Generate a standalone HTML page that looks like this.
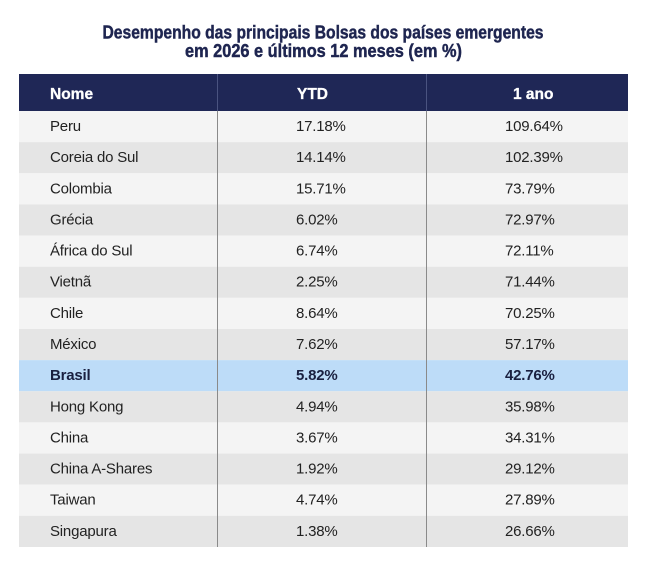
<!DOCTYPE html>
<html><head><meta charset="utf-8"><style>
html,body{margin:0;padding:0;background:#fff;}
svg{display:block;}
text{font-family:"Liberation Sans",Arial,sans-serif;}
</style></head><body>
<svg width="646" height="569" viewBox="0 0 646 569" xmlns="http://www.w3.org/2000/svg">
<rect width="646" height="569" fill="#ffffff"/>
<text x="323" y="38.5" text-anchor="middle" font-size="18" font-weight="bold" fill="#1e2550" stroke="#1e2550" stroke-width="0.45" textLength="441" lengthAdjust="spacingAndGlyphs">Desempenho das principais Bolsas dos países emergentes</text>
<text x="323.5" y="57" text-anchor="middle" font-size="18" font-weight="bold" fill="#1e2550" stroke="#1e2550" stroke-width="0.45" textLength="277" lengthAdjust="spacingAndGlyphs">em 2026 e últimos 12 meses (em %)</text>

<!-- header -->
<rect x="19" y="74" width="609" height="37" fill="#1f2756"/>
<!-- rows -->
<rect x="19" y="111" width="609" height="31.14" fill="#f4f4f4"/>
<rect x="19" y="142.14" width="609" height="31.14" fill="#e5e5e5"/>
<rect x="19" y="173.28" width="609" height="31.14" fill="#f4f4f4"/>
<rect x="19" y="204.42" width="609" height="31.14" fill="#e5e5e5"/>
<rect x="19" y="235.56" width="609" height="31.14" fill="#f4f4f4"/>
<rect x="19" y="266.7" width="609" height="31.14" fill="#e5e5e5"/>
<rect x="19" y="297.84" width="609" height="31.14" fill="#f4f4f4"/>
<rect x="19" y="328.98" width="609" height="31.14" fill="#e5e5e5"/>
<rect x="19" y="360.12" width="609" height="31.14" fill="#bddcf8"/>
<rect x="19" y="391.26" width="609" height="31.14" fill="#e5e5e5"/>
<rect x="19" y="422.4" width="609" height="31.14" fill="#f4f4f4"/>
<rect x="19" y="453.54" width="609" height="31.14" fill="#e5e5e5"/>
<rect x="19" y="484.68" width="609" height="31.14" fill="#f4f4f4"/>
<rect x="19" y="515.82" width="609" height="31.18" fill="#e5e5e5"/>

<!-- dividers -->
<line x1="217.5" y1="74" x2="217.5" y2="111" stroke="#4a5380" stroke-width="1"/>
<line x1="426.5" y1="74" x2="426.5" y2="111" stroke="#4a5380" stroke-width="1"/>
<line x1="217.5" y1="111" x2="217.5" y2="547" stroke="#8a8a8a" stroke-width="1"/>
<line x1="426.5" y1="111" x2="426.5" y2="547" stroke="#8a8a8a" stroke-width="1"/>

<!-- header text -->
<g font-size="15.5" font-weight="bold" fill="#ffffff" stroke="#ffffff" stroke-width="0.3">
<text x="50" y="99">Nome</text>
<text x="297" y="99">YTD</text>
<text x="513" y="99">1 ano</text>
</g>

<g font-size="15" fill="#222222" letter-spacing="-0.2">
<text x="50" y="131">Peru</text><text x="296" y="131">17.18%</text><text x="505" y="131">109.64%</text>
<text x="50" y="162.1">Coreia do Sul</text><text x="296" y="162.1">14.14%</text><text x="505" y="162.1">102.39%</text>
<text x="50" y="193.3">Colombia</text><text x="296" y="193.3">15.71%</text><text x="505" y="193.3">73.79%</text>
<text x="50" y="224.4">Grécia</text><text x="296" y="224.4">6.02%</text><text x="505" y="224.4">72.97%</text>
<text x="50" y="255.6">África do Sul</text><text x="296" y="255.6">6.74%</text><text x="505" y="255.6">72.11%</text>
<text x="50" y="286.7">Vietnã</text><text x="296" y="286.7">2.25%</text><text x="505" y="286.7">71.44%</text>
<text x="50" y="317.8">Chile</text><text x="296" y="317.8">8.64%</text><text x="505" y="317.8">70.25%</text>
<text x="50" y="349">México</text><text x="296" y="349">7.62%</text><text x="505" y="349">57.17%</text>
<text x="50" y="380.1" font-weight="bold" fill="#1a2040">Brasil</text><text x="296" y="380.1" font-weight="bold" fill="#1a2040">5.82%</text><text x="505" y="380.1" font-weight="bold" fill="#1a2040">42.76%</text>
<text x="50" y="411.3">Hong Kong</text><text x="296" y="411.3">4.94%</text><text x="505" y="411.3">35.98%</text>
<text x="50" y="442.4">China</text><text x="296" y="442.4">3.67%</text><text x="505" y="442.4">34.31%</text>
<text x="50" y="473.5">China A-Shares</text><text x="296" y="473.5">1.92%</text><text x="505" y="473.5">29.12%</text>
<text x="50" y="504.7">Taiwan</text><text x="296" y="504.7">4.74%</text><text x="505" y="504.7">27.89%</text>
<text x="50" y="535.8">Singapura</text><text x="296" y="535.8">1.38%</text><text x="505" y="535.8">26.66%</text>
</g>
</svg>
</body></html>
